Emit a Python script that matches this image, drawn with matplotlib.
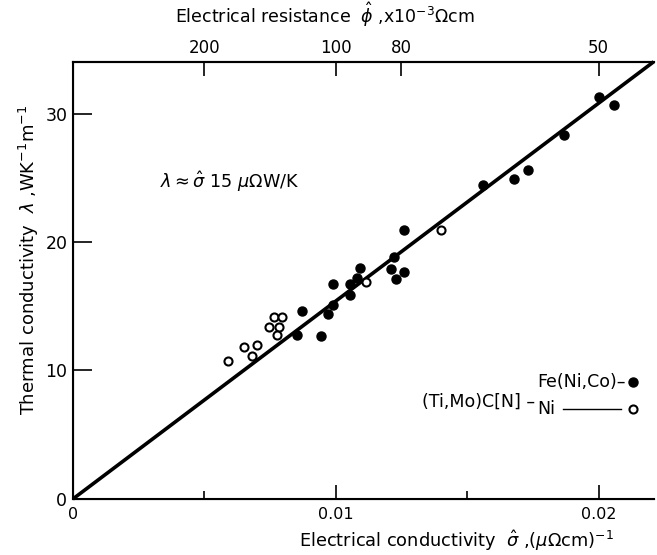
import matplotlib
matplotlib.use('Agg')

import matplotlib.pyplot as plt
import numpy as np

# conductivity (uOhm cm)^-1 and thermal conductivity W/(K m)
fe_sigma = [0.0200, 0.0206, 0.0187, 0.0126, 0.0156, 0.0168, 0.0173,
            0.0122, 0.0121, 0.0126, 0.0123, 0.01093, 0.0108, 0.0099,
            0.01055, 0.01055, 0.0099, 0.0097, 0.0087, 0.00853, 0.00945]
fe_lambda = [31.3, 30.7, 28.3, 20.9, 24.4, 24.9, 25.6,
             18.8, 17.9, 17.7, 17.1, 18.0, 17.2, 16.7,
             16.7, 15.9, 15.1, 14.4, 14.6, 12.8, 12.7]

ni_sigma = [0.0140, 0.01116, 0.00766, 0.00796, 0.00747, 0.00785,
            0.00777, 0.0070, 0.00651, 0.0068, 0.0059]
ni_lambda = [20.9, 16.9, 14.2, 14.2, 13.4, 13.4,
             12.8, 12.0, 11.8, 11.1, 10.7]

fit_slope = 1540.0   # lambda = sigma * L
fit_sigma = [0.0, 0.0221]

x_ticks = [0, 0.01, 0.02]
x_labels = ['0', '0.01', '0.02']
x_minor = [0.005, 0.015]
y_ticks = [0, 10, 20, 30]
res_ticks = [200, 100, 80, 50]

plt.rcParams['font.family'] = ['DejaVu Sans']
plt.rcParams['mathtext.fontset'] = 'dejavusans'

fig = plt.figure(figsize=(6.57, 5.55), dpi=100)
ax = fig.add_axes([0.111, 0.101, 0.884, 0.787])

ax.plot(fit_sigma, [s * fit_slope for s in fit_sigma], color='black', lw=2.6,
        solid_capstyle='butt', clip_on=False)
ax.plot(fe_sigma, fe_lambda, 'o', color='black', ms=6.5, ls='none')
ax.plot(ni_sigma, ni_lambda, 'o', mfc='white', mec='black', mew=1.5, ms=5.8, ls='none')

ax.set_xlim(0, 0.0221)
ax.set_ylim(0, 34)

ax.spines['right'].set_visible(False)
for s in ['left', 'bottom', 'top']:
    ax.spines[s].set_linewidth(1.5)

ax.set_xticks(x_ticks)
ax.set_xticklabels(x_labels, fontsize=11.5)
ax.set_xticks(x_minor, minor=True)
ax.set_yticks(y_ticks)
ax.set_yticklabels([str(v) for v in y_ticks], fontsize=12.5)
ax.tick_params(axis='x', which='major', direction='in', length=10, width=1.2, pad=6)
ax.tick_params(axis='x', which='minor', direction='in', length=6, width=1.2)
ax.tick_params(axis='y', direction='in', length=14, width=1.2, pad=4)

ax.set_xlabel(r'Electrical conductivity  $\hat{\sigma}$ ,($\mu\Omega$cm)$^{-1}$',
              fontsize=12.8)
ax.xaxis.set_label_coords(0.66, -0.096)
ax.xaxis.label.set_va('center')
ax.set_ylabel(r'Thermal conductivity  $\lambda$ ,WK$^{-1}$m$^{-1}$', fontsize=13)
ax.yaxis.set_label_coords(-0.075, 0.547)
ax.yaxis.label.set_va('center')

top = ax.twiny()
top.set_xlim(ax.get_xlim())
top.set_xticks([1.0 / r for r in res_ticks])
top.set_xticklabels([str(r) for r in res_ticks], fontsize=12)
top.tick_params(axis='x', direction='in', length=10, width=1.2, pad=4)
top.spines['right'].set_visible(False)
top.spines['top'].set_linewidth(1.5)
top.set_xlabel(r'Electrical resistance  $\hat{\phi}$ ,x10$^{-3}\Omega$cm',
               fontsize=12.5)
top.xaxis.set_label_coords(0.434, 1.108)
top.xaxis.label.set_va('center')

ax.text(0.0033, 24.7, r'$\lambda \approx \hat{\sigma}$ 15 $\mu\Omega$W/K', fontsize=12.7,
        ha='left', va='center')

# legend
ax.text(0.0176, 7.6, '(Ti,Mo)C[N] \u2013', fontsize=12.5, ha='right', va='center')
ax.text(0.01768, 9.1, 'Fe(Ni,Co)\u2013', fontsize=12.5, ha='left', va='center')
ax.text(0.01768, 7.0, 'Ni', fontsize=12.5, ha='left', va='center')
ax.plot([0.01863, 0.02084], [7.0, 7.0], color='black', lw=1.0)
ax.plot([0.02133], [9.1], 'o', color='black', ms=6.5)
ax.plot([0.02133], [7.0], 'o', mfc='white', mec='black', mew=1.5, ms=5.8)

fig.savefig('out.png', dpi=100)
plt.close(fig)
